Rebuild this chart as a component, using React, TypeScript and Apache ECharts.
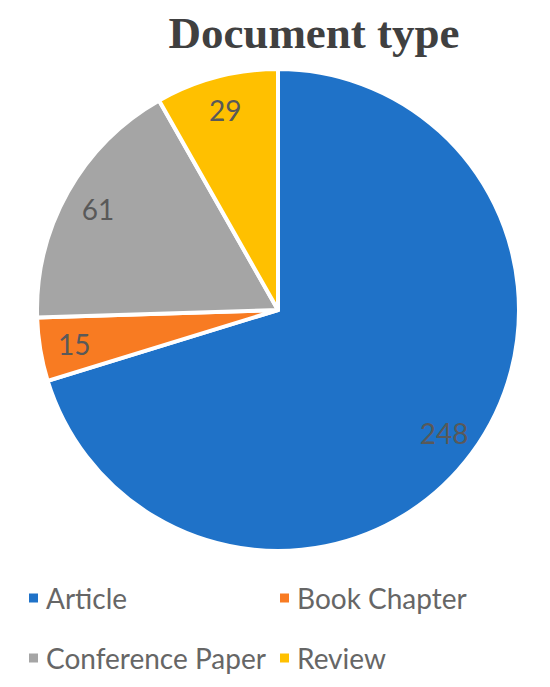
import React, { useEffect, useRef } from "react";
import * as echarts from "echarts";

const categories = ["Article", "Book Chapter", "Conference Paper", "Review"];
const values = [248, 15, 61, 29];
const colors = ["#1F72C8", "#F87B22", "#A5A5A5", "#FFC000"];
const titleText = "Document type";

export default function App() {
  const ref = useRef<HTMLDivElement>(null);
  useEffect(() => {
    if (!ref.current) return;
    const chart = echarts.init(ref.current, undefined, { renderer: "svg" });
    const data = categories.map((name, i) => ({ name, value: values[i], itemStyle: { color: colors[i] } }));
    const legendPos = [
      { left: 22, top: 579 },
      { left: 273, top: 579 },
      { left: 22, top: 639 },
      { left: 273, top: 639 },
    ];
    chart.setOption({
      animation: false,
      backgroundColor: "#ffffff",
      title: {
        text: titleText,
        left: 309,
        textAlign: "center",
        top: 5,
        textStyle: {
          fontFamily: "Liberation Serif",
          fontWeight: "bold",
          fontSize: 45,
          color: "#404040",
        },
      },
      legend: categories.map((name, i) => ({
        data: [name],
        left: legendPos[i].left,
        top: legendPos[i].top,
        icon: "rect",
        itemWidth: 11,
        itemHeight: 11,
        itemGap: 10,
        selectedMode: false,
        textStyle: { fontFamily: "Lato", fontSize: 28, color: "#666666", padding: [0, 0, 0, 2] },
      })),
      series: [
        {
          type: "pie",
          center: [278, 310],
          radius: [0, 241],
          startAngle: 90,
          clockwise: true,
          data,
          label: { show: false },
          labelLine: { show: false },
          itemStyle: { borderColor: "#ffffff", borderWidth: 4 },
          silent: true,
        },
        {
          type: "pie",
          center: [278, 310],
          radius: [166, 241],
          startAngle: 90,
          clockwise: true,
          data: categories.map((name, i) => ({ name, value: values[i] })),
          itemStyle: { color: "transparent", borderWidth: 0 },
          label: {
            show: true,
            position: "inside",
            formatter: "{c}",
            fontFamily: "Lato",
            fontSize: 28,
            color: "#595959",
          },
          labelLine: { show: false },
          silent: true,
        },
      ],
    });
    return () => chart.dispose();
  }, []);
  return <div ref={ref} style={{ position: "fixed", left: 0, top: 0, width: 550, height: 687 }} />;
}
